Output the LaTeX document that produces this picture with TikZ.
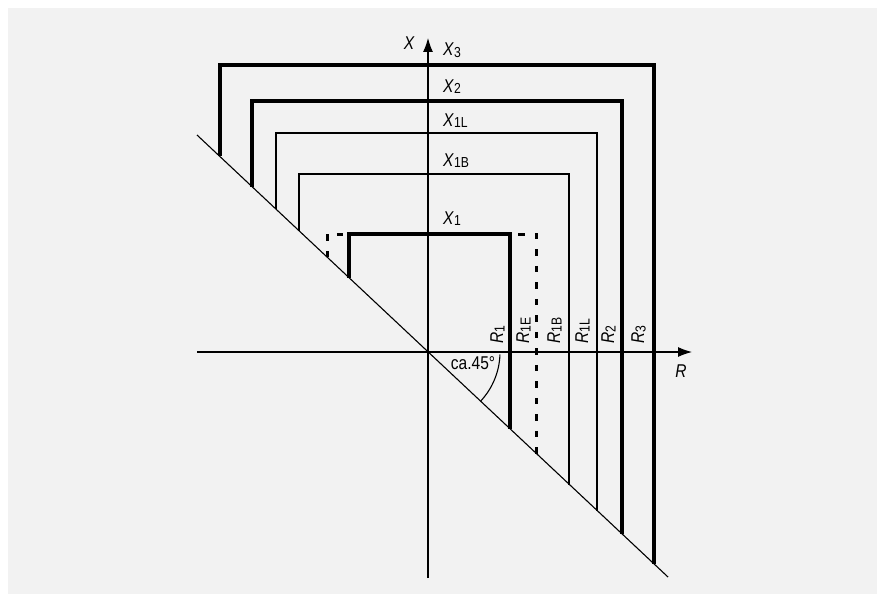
\documentclass[tikz,border=0pt]{standalone}
\usepackage{fontspec}
\setmainfont{Liberation Sans}[FakeStretch=0.84]
\usetikzlibrary{arrows.meta}
\definecolor{paper}{HTML}{F2F2F2}
\newcommand{\lbl}[2]{\textit{#1}\raisebox{-1.6pt}{\fontsize{14.5}{15}\selectfont #2}}

\begin{document}
\begin{tikzpicture}[x=1pt, y=-1pt, every node/.style={font=\fontsize{18.5}{20}\selectfont, inner sep=0pt}, >={Latex[length=14pt,width=10pt]}, axis/.style={line width=1.1pt}, heavy/.style={line width=3.2pt}, light/.style={line width=1.5pt}, hidden/.style={line width=3pt, dash pattern=on 6.5pt off 10pt}]
	\useasboundingbox (0,0) rectangle (877,594);
	\fill[paper] (8,8) rectangle (877,594);
	\coordinate (O) at (428,352);
	\coordinate (Xtop) at (428,38);
	\coordinate (Xbot) at (428,578);
	\coordinate (Rleft) at (197,352);
	\coordinate (Rright) at (692,352);
	\coordinate (Dtop) at (197,135);
	\coordinate (Dbot) at (668,577);
	% Achsen und Schraege
	\draw[axis, ->] (Xbot) -- (Xtop);
	\draw[axis, ->] (Rleft) -- (Rright);
	\draw[axis] (Dtop) -- (Dbot);
	\draw[axis] (O) ++(2:72) arc[start angle=2, end angle=43, radius=72];
	% Stufen
	\foreach \xl/\xr/\yt/\st in {220/654/65/heavy, 252/622/101/heavy, 276/597/133/light, 299/569/174/light, 327/536/234/hidden, 349/510/234/heavy}{
		\pgfmathsetmacro{\yl}{352+0.94*(\xl-428)}
		\pgfmathsetmacro{\yr}{352+0.94*(\xr-428)}
		\coordinate (a) at (\xl,\yl);
		\coordinate (b) at (\xr,\yr);
		\draw[\st] (a) |- (\xr,\yt) -- (b);
	}
	% Beschriftung
	\node[anchor=base east] (lx) at (415,49) {\textit{X}};
	\node[anchor=base west] (lx3) at (443,56) {\lbl{X}{3}};
	\node[anchor=base west] (lx2) at (443,92) {\lbl{X}{2}};
	\node[anchor=base west] (lx1l) at (443,126) {\lbl{X}{1L}};
	\node[anchor=base west] (lx1b) at (443,166) {\lbl{X}{1B}};
	\node[anchor=base west] (lx1) at (443,224) {\lbl{X}{1}};
	\foreach \px/\txt/\sb in {503/R/1, 529/R/1E, 560/R/1B, 588/R/1L, 614/R/2, 644/R/3}
		\node[anchor=base west, rotate=90] (lr\sb) at (\px,344) {\lbl{\txt}{\sb}};
	\node[anchor=base] (lr) at (681,377) {\textit{R}};
	\node[anchor=base] (angle) at (473,369) {ca.45°};
\end{tikzpicture}
\end{document}
